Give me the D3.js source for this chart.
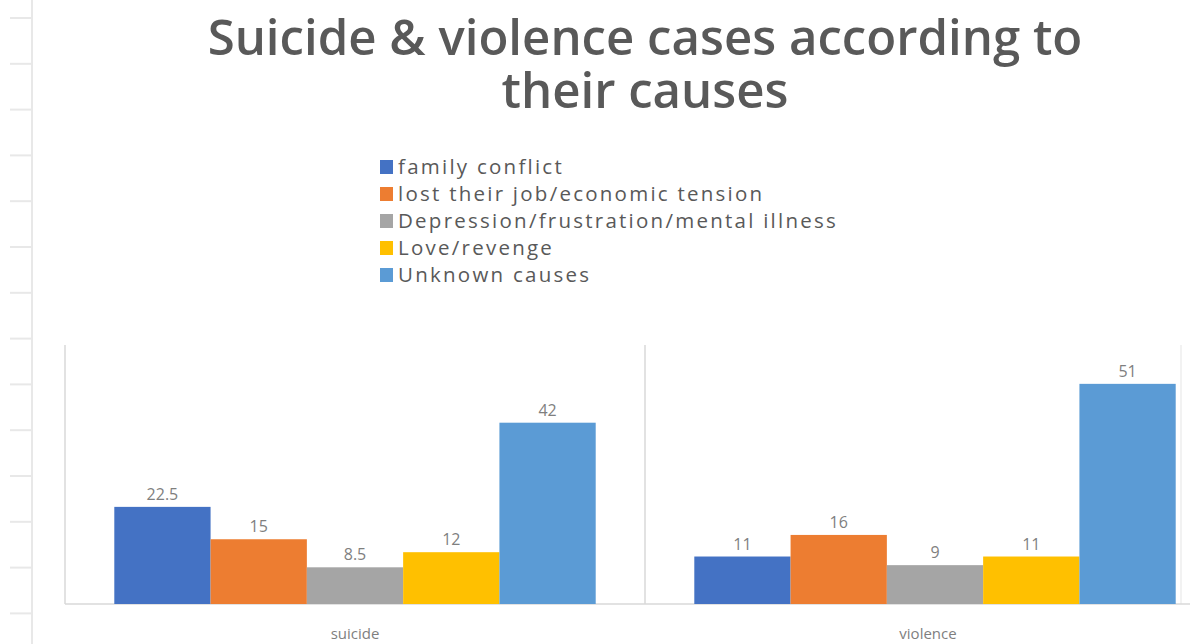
<!DOCTYPE html>
<html>
<head>
<meta charset="utf-8">
<script src="https://cdn.jsdelivr.net/npm/d3@7"></script>
<style>
  html, body { margin: 0; padding: 0; background: #fff; overflow: hidden; }
  svg { display: block; }
</style>
</head>
<body>
<svg id="chart" width="1190" height="644"></svg>
<script>
// Chart data
const categories = ["suicide", "violence"];
const causes = [
  "family conflict",
  "lost their job/economic tension",
  "Depression/frustration/mental illness",
  "Love/revenge",
  "Unknown causes"
];
const suicideValues = [22.5, 15, 8.5, 12, 42];
const violenceValues = [11, 16, 9, 11, 51];
const causeColors = ["#4472C4", "#ED7D31", "#A5A5A5", "#FFC000", "#5B9BD5"];
const titleLines = ["Suicide & violence cases according to", "their causes"];

const valuesByCategory = { suicide: suicideValues, violence: violenceValues };

const W = 1190, H = 644;
const svg = d3.select("#chart");

const plot = { left: 65, top: 345, bottom: 604, right: 1225 };

// Faint ruler along the left edge
const ruler = svg.append("g").attr("stroke", "#e8e8e8");
ruler.append("line").attr("x1", 32).attr("x2", 32).attr("y1", 0).attr("y2", H).attr("stroke-width", 2);
d3.range(14).forEach(i => {
  const y = 18 + i * 45.8;
  ruler.append("line").attr("x1", 10).attr("x2", 32).attr("y1", y).attr("y2", y).attr("stroke-width", 2);
});

// Scales
const x0 = d3.scaleBand().domain(categories).range([plot.left, plot.right]).padding(0);
const groupGap = x0.bandwidth() * 0.085;
const x1 = d3.scaleBand().domain(causes).range([groupGap, x0.bandwidth() - groupGap]).padding(0);
const y = d3.scaleLinear().domain([0, 60]).range([plot.bottom, plot.top]);

// Plot frame: left edge, category separators, baseline
const frame = svg.append("g").attr("stroke", "#d9d9d9").attr("stroke-width", 1.5);
categories.forEach(c => {
  const xx = x0(c);
  frame.append("line").attr("x1", xx).attr("x2", xx).attr("y1", plot.top).attr("y2", plot.bottom);
});
frame.append("line").attr("x1", 1181).attr("x2", 1181).attr("y1", plot.top).attr("y2", plot.bottom).attr("stroke", "#eeeeee");
frame.append("line").attr("x1", plot.left).attr("x2", W).attr("y1", plot.bottom).attr("y2", plot.bottom);

// Bars
const groups = svg.append("g").selectAll("g")
  .data(categories).join("g")
  .attr("transform", c => `translate(${x0(c)},0)`);

groups.selectAll("rect")
  .data(c => valuesByCategory[c].map((v, i) => ({ cause: causes[i], value: v, color: causeColors[i] })))
  .join("rect")
  .attr("x", d => x1(d.cause))
  .attr("width", x1.bandwidth())
  .attr("y", d => y(d.value))
  .attr("height", d => y(0) - y(d.value))
  .attr("fill", d => d.color);

// Value labels
groups.selectAll("text.val")
  .data(c => valuesByCategory[c].map((v, i) => ({ cause: causes[i], value: v })))
  .join("text")
  .attr("class", "val")
  .attr("x", d => x1(d.cause) + x1.bandwidth() / 2)
  .attr("y", d => y(d.value) - 7)
  .attr("text-anchor", "middle")
  .attr("font-family", "Open Sans, sans-serif")
  .attr("font-size", 16)
  .attr("fill", "#7f7f7f")
  .text(d => d.value);

// Category axis labels
svg.append("g").selectAll("text")
  .data(categories).join("text")
  .attr("x", c => c === "suicide" ? x0(c) + x0.bandwidth() / 2 : x0(c) + x0.bandwidth() / 2 - 7)
  .attr("y", 639)
  .attr("text-anchor", "middle")
  .attr("font-family", "Open Sans, sans-serif")
  .attr("font-size", 15)
  .attr("fill", "#7f7f7f")
  .text(c => c);

// Title
const title = svg.append("g");
const titleText = title.selectAll("text")
  .data(titleLines).join("text")
  .attr("x", 645)
  .attr("y", (d, i) => 55 + i * 53)
  .attr("text-anchor", "middle")
  .attr("font-family", "Open Sans, sans-serif")
  .attr("font-weight", 600)
  .attr("font-size", 38)
  .attr("fill", "#595959")
  .text(d => d);
// size the title so the first line spans its intended width
const firstLen = titleText.nodes()[0].getComputedTextLength();
titleText.attr("font-size", 38 * 875 / firstLen);

// Legend
const legend = svg.append("g").attr("transform", "translate(380,0)");
const legendRows = legend.selectAll("g")
  .data(causes).join("g")
  .attr("transform", (d, i) => `translate(0,${167 + i * 27})`);
legendRows.append("rect")
  .attr("x", 0).attr("y", -7).attr("width", 13).attr("height", 14)
  .attr("fill", (d, i) => causeColors[i]);
const legendText = legendRows.append("text")
  .attr("x", 18).attr("y", 0).attr("dy", "0.35em")
  .attr("font-family", "Open Sans, sans-serif")
  .attr("font-size", 20.5)
  .attr("fill", "#595959")
  .text(d => d);
// spread the legend labels so the longest one reaches its intended width
const longest = legendText.nodes()[2].getComputedTextLength();
legendText.attr("letter-spacing", Math.max(0, (440 - longest) / causes[2].length));
</script>
</body>
</html>
